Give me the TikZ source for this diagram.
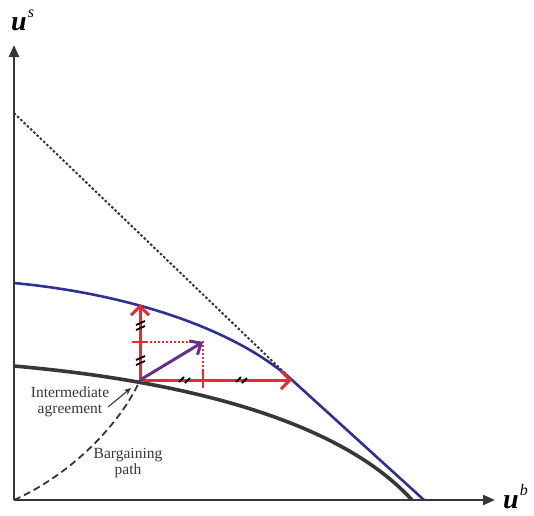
\documentclass[tikz,border=0pt]{standalone}
\usepackage{fontspec}
\setmainfont{Liberation Serif}
\usetikzlibrary{arrows.meta}
\definecolor{axisgray}{RGB}{55,55,55}
\definecolor{fblue}{RGB}{46,49,146}
\definecolor{fred}{RGB}{237,40,46}
\definecolor{fpurple}{RGB}{102,45,145}
\tikzset{
  axis/.style={draw=axisgray, line width=2.4pt, -{Triangle[length=12pt,width=10pt]}},
  frontier/.style={draw=fblue, line width=2.6pt},
  disagree/.style={draw=axisgray, line width=3.6pt},
  redarrow/.style={draw=fred, line width=3pt, -{Straight Barb[length=9pt,width=18pt,line width=3pt]}},
  reddot/.style={draw=fred, line width=2pt, dash pattern=on 2pt off 2pt},
  redtick/.style={draw=fred, line width=2pt},
  hash/.style={draw=black, line width=1.8pt},
  lbl/.style={font=\fontsize{15.5}{16}\selectfont, text=axisgray, align=center, inner sep=0pt},
  axlbl/.style={font=\fontsize{28}{30}\selectfont\bfseries\itshape, inner sep=0pt}
}
\begin{document}
\begin{tikzpicture}[x=1pt,y=-1pt]
\useasboundingbox (0,0) rectangle (534,515);
% points
\coordinate (O) at (14,500);
\coordinate (A) at (140,380);
\coordinate (E) at (292,380);
\coordinate (V) at (140,304);
\coordinate (P) at (203,342);
\coordinate (Ytop) at (14,45);
\coordinate (Xend) at (495,500);
% dotted line
\draw[axisgray, line width=2pt, dash pattern=on 2.5pt off 2pt] (14,113) -- (E);
% disagreement frontier
\draw[disagree] (14,366) .. controls (150,378) and (330,410) .. (412,500);
% blue frontier
\draw[frontier] (14,283) .. controls (120,293) and (230,325) .. (E) -- (424,500);
% axes
\draw[axis] (O) -- (Ytop);
\draw[axis] (O) -- (Xend);
\node[axlbl, anchor=base west] (us) at (11,30) {u\hspace{1pt}\raisebox{13pt}{\fontsize{16}{18}\selectfont\mdseries s}};
\node[axlbl, anchor=base west] (ub) at (503,508) {u\hspace{1pt}\raisebox{13pt}{\fontsize{16}{18}\selectfont\mdseries b}};
% bargaining path
\draw[axisgray, line width=1.8pt, dash pattern=on 7pt off 4pt] (O) .. controls (70,475) and (120,425) .. (A);
% red construction
\draw[reddot] (134,342) -- (P) -- (203,380);
\draw[redtick] (132,342) -- (147,342);
\draw[redtick] (203,371) -- (203,388);
\draw[redarrow] (A) -- (E);
\draw[redarrow] (A) -- (V);
\draw[fpurple, line width=3pt, -{Straight Barb[length=9pt,width=16pt,line width=3pt]}] (A) -- (P);
% hash marks
\foreach \y in {327,362}{
  \draw[hash] (136,\y-2) -- (145,\y-6);
  \draw[hash] (136,\y+3) -- (145,\y-1);
}
\foreach \x in {186,243}{
  \draw[hash] (\x-7,382) -- (\x-2,377);
  \draw[hash] (\x-1,383) -- (\x+4,378);
}
% labels
\node[lbl] (ia) at (70,402) {Intermediate\\agreement};
\draw[axisgray, line width=1.1pt, -{Stealth[length=7pt,width=6pt]}] (108,407) -- (131,388);
\node[lbl] (bp) at (128,463) {Bargaining\\path};
\end{tikzpicture}
\end{document}
